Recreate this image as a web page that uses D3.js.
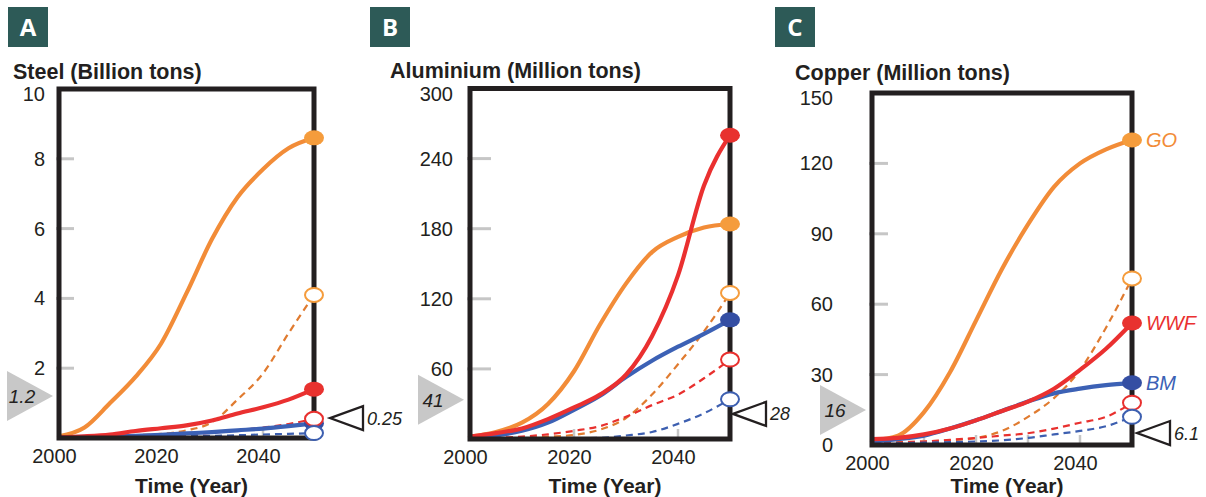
<!DOCTYPE html>
<html>
<head>
<meta charset="utf-8">
<script src="https://cdn.jsdelivr.net/npm/d3@7"></script>
<style>
  html, body { margin: 0; padding: 0; background: #fff; }
  svg { display: block; }
</style>
</head>
<body>
<svg id="chart" width="1206" height="497"></svg>
<script>
// ---------------- DATA ----------------
const years = [2000, 2005, 2010, 2015, 2020, 2025, 2030, 2035, 2040, 2045, 2050];
const xTickYears = [2000, 2020, 2040];

// Panel A - Steel (Billion tons)
const steelTitle = "Steel (Billion tons)";
const steelTicks = [2, 4, 6, 8, 10];
const steelGO       = [0.05, 0.3, 1.0, 1.75, 2.7, 4.15, 5.7, 6.9, 7.7, 8.3, 8.6];
const steelGOdash   = [0.02, 0.03, 0.05, 0.08, 0.12, 0.22, 0.45, 1.1, 1.85, 3.0, 4.1];
const steelWWF      = [0.02, 0.05, 0.1, 0.2, 0.28, 0.36, 0.5, 0.7, 0.88, 1.1, 1.4];
const steelWWFdash  = [0.0, 0.01, 0.02, 0.04, 0.06, 0.1, 0.15, 0.22, 0.3, 0.4, 0.55];
const steelBM       = [0.02, 0.03, 0.04, 0.06, 0.09, 0.13, 0.17, 0.22, 0.27, 0.34, 0.42];
const steelBMdash   = [0.01, 0.01, 0.02, 0.03, 0.04, 0.05, 0.06, 0.08, 0.1, 0.12, 0.14];
const steelCurrent = {label: "1.2", at: 1.2};
const steelRecycle = {label: "0.25", at: 0.57};

// Panel B - Aluminium (Million tons)
const aluTitle = "Aluminium (Million tons)";
const aluTicks = [60, 120, 180, 240, 300];
const aluGO      = [2, 6, 14, 30, 58, 98, 133, 160, 173, 181, 184];
const aluGOdash  = [0, 0.3, 0.8, 2, 3.5, 8, 18, 38, 64, 92, 125];
const aluWWF     = [2, 5, 9, 17, 27, 38, 55, 88, 140, 217, 260];
const aluWWFdash = [0, 1, 2, 4, 7, 11, 19, 29, 38, 52, 68];
const aluBM      = [1, 3, 7, 14, 25, 37, 53, 67, 79, 90, 102];
const aluBMdash  = [0, 0, 0, 0, 0.5, 1, 3, 6, 13, 22, 34];
const aluCurrent = {label: "41", at: 33.5};
const aluRecycle = {label: "28", at: 21.5};

// Panel C - Copper (Million tons)
const cuTitle = "Copper (Million tons)";
const cuTicks = [0, 30, 60, 90, 120, 150];
const cuGO      = [2, 4, 14, 31, 53, 75, 94, 110, 120, 126, 130];
const cuGOdash  = [1, 1.2, 1.5, 2, 3, 6, 12, 20, 32, 50, 71];
const cuWWF     = [2.5, 3, 4.5, 7, 10.5, 14.5, 18.5, 24, 32, 41, 52];
const cuWWFdash = [0.5, 1, 1.5, 2.2, 3, 4, 5, 7, 9.5, 12, 18];
const cuBM      = [1.5, 2.5, 4, 7, 10.5, 14.5, 18.5, 22, 24, 25.5, 26.5];
const cuBMdash  = [0.5, 0.7, 1, 1.2, 1.5, 2, 3, 4.5, 6, 8, 12];
const cuCurrent = {label: "16", at: 14.9};
const cuRecycle = {label: "6.1", at: 5.1};

const scenarioNames = ["GO", "WWF", "BM"];

// ---------------- STYLE / LAYOUT ----------------
const colors = {
  GO:  {line: "#f28c38", dash: "#e07b30", dot: "#f59c3c"},
  WWF: {line: "#ea3030", dash: "#e8302e", dot: "#e8322f"},
  BM:  {line: "#3c61b5", dash: "#3d5fb0", dot: "#344ea3"}
};
const ink = "#231f20";
const tickGray = "#c6c6c6";

const panels = [
  {letter: "A", badgeX: 8, title: steelTitle, titleX: 13, titleY: 79,
   left: 59, right: 314, top: 89, bottom: 438, yMax: 10, yTicks: steelTicks,
   labelRight: 45, tickLen: 15, xGray: [2040],
   series: {GO: [steelGO, steelGOdash], WWF: [steelWWF, steelWWFdash], BM: [steelBM, steelBMdash]},
   current: steelCurrent, recycle: steelRecycle, recycleDx: 16, endLabels: false},
  {letter: "B", badgeX: 370, title: aluTitle, titleX: 390, titleY: 78,
   left: 470, right: 730, top: 88.5, bottom: 439, yMax: 300, yTicks: aluTicks,
   labelRight: 453, tickLen: 21, xGray: [2020, 2040],
   series: {GO: [aluGO, aluGOdash], WWF: [aluWWF, aluWWFdash], BM: [aluBM, aluBMdash]},
   current: aluCurrent, recycle: aluRecycle, recycleDx: 3, endLabels: false},
  {letter: "C", badgeX: 775, title: cuTitle, titleX: 795, titleY: 80,
   left: 872, right: 1132, top: 93, bottom: 445, yMax: 150, yTicks: cuTicks,
   labelRight: 833, tickLen: 16, xGray: [2010, 2020, 2030, 2040],
   series: {GO: [cuGO, cuGOdash], WWF: [cuWWF, cuWWFdash], BM: [cuBM, cuBMdash]},
   current: cuCurrent, recycle: cuRecycle, recycleDx: 5, endLabels: true}
];

const svg = d3.select("#chart");
const sans = "'Liberation Sans', Arial, Helvetica, sans-serif";

panels.forEach(p => {
  const g = svg.append("g");
  const x = d3.scaleLinear().domain([2000, 2050]).range([p.left, p.right]);
  const y = d3.scaleLinear().domain([0, p.yMax]).range([p.bottom, p.top]);

  // badge
  g.append("rect").attr("x", p.badgeX).attr("y", 7).attr("width", 40).attr("height", 40)
    .attr("fill", "#2d5a57");
  g.append("text").attr("x", p.badgeX + 20).attr("y", 35.5).attr("text-anchor", "middle")
    .attr("font-family", "'Open Sans', sans-serif").attr("font-weight", 700)
    .attr("font-size", 24).attr("fill", "#fff").text(p.letter);

  // title
  g.append("text").attr("x", p.titleX).attr("y", p.titleY)
    .attr("font-family", sans).attr("font-weight", 700).attr("font-size", 21.5)
    .attr("fill", ink).text(p.title);

  // y axis labels
  const yAxis = d3.axisLeft(y).tickValues(p.yTicks).tickSize(0).tickPadding(0)
    .tickFormat(d3.format("d"));
  const ya = g.append("g").attr("transform", `translate(${p.labelRight},0)`).call(yAxis);
  ya.select(".domain").remove();
  ya.selectAll(".tick").attr("transform", d => `translate(0,${Math.max(y(d), p.top + 5)})`);
  ya.selectAll("text").attr("font-family", sans).attr("font-size", 20).attr("fill", ink)
    .attr("dy", "0.35em").attr("x", 0);

  // gray y tick marks (inner)
  g.selectAll(".ytm").data(p.yTicks.filter(v => v > 0 && v < p.yMax)).join("line")
    .attr("x1", p.left - 3).attr("x2", p.left + p.tickLen)
    .attr("y1", d => y(d)).attr("y2", d => y(d))
    .attr("stroke", tickGray).attr("stroke-width", 3);

  // gray x tick marks
  g.selectAll(".xtm").data(p.xGray).join("line")
    .attr("x1", d => x(d)).attr("x2", d => x(d))
    .attr("y1", p.bottom - 10).attr("y2", p.bottom)
    .attr("stroke", tickGray).attr("stroke-width", 2.5);

  // x axis labels
  const xAxis = d3.axisBottom(x).tickValues(xTickYears).tickSize(0).tickPadding(0)
    .tickFormat(d3.format("d"));
  const xa = g.append("g").attr("transform", `translate(-5,${p.bottom + 11})`).call(xAxis);
  xa.select(".domain").remove();
  xa.selectAll("text").attr("font-family", sans).attr("font-size", 20).attr("fill", ink)
    .attr("dy", "0.72em").attr("y", 0);

  // x title
  g.append("text").attr("x", (p.left + p.right) / 2 + 5).attr("y", 493)
    .attr("text-anchor", "middle").attr("font-family", sans).attr("font-weight", 700)
    .attr("font-size", 21).attr("fill", ink).text("Time (Year)");

  const line = d3.line().x((d, i) => x(years[i])).y(d => y(d)).curve(d3.curveMonotoneX);

  // dashed lines
  scenarioNames.forEach(s => {
    g.append("path").datum(p.series[s][1]).attr("d", line).attr("fill", "none")
      .attr("stroke", colors[s].dash).attr("stroke-width", 2.2)
      .attr("stroke-dasharray", "7,5");
  });
  // solid lines (blue under red)
  ["GO", "BM", "WWF"].forEach(s => {
    g.append("path").datum(p.series[s][0]).attr("d", line).attr("fill", "none")
      .attr("stroke", colors[s].line).attr("stroke-width", 4.2)
      .attr("stroke-linejoin", "round").attr("stroke-linecap", "round");
  });

  // frame
  g.append("rect").attr("x", p.left).attr("y", p.top)
    .attr("width", p.right - p.left).attr("height", p.bottom - p.top)
    .attr("fill", "none").attr("stroke", ink).attr("stroke-width", 5);

  // end markers: filled (solid) then open (dashed)
  const last = years[years.length - 1];
  scenarioNames.forEach(s => {
    const v = p.series[s][0];
    g.append("ellipse").attr("cx", x(last)).attr("cy", y(v[v.length - 1]))
      .attr("rx", 10).attr("ry", 7.5).attr("fill", colors[s].dot);
  });
  scenarioNames.forEach(s => {
    const v = p.series[s][1];
    g.append("ellipse").attr("cx", x(last)).attr("cy", y(v[v.length - 1]))
      .attr("rx", 9).attr("ry", 7).attr("fill", "#fff")
      .attr("stroke", s === "GO" ? colors[s].dot : colors[s].dash)
      .attr("stroke-width", 2);
  });

  // end labels (panel C)
  if (p.endLabels) {
    scenarioNames.forEach(s => {
      const v = p.series[s][0];
      g.append("text").attr("x", x(last) + 14).attr("y", y(v[v.length - 1]))
        .attr("dy", "0.36em").attr("font-family", sans).attr("font-style", "italic")
        .attr("font-size", 20).attr("fill", colors[s].line).text(s);
    });
  }

  // current-use gray triangle (left)
  const cy = y(p.current.at);
  const ax = p.left - 6;
  g.append("path")
    .attr("d", `M${ax - 46},${cy - 25}L${ax},${cy}L${ax - 46},${cy + 25}Z`)
    .attr("fill", "#c8c8c8");
  g.append("text").attr("x", ax - 31).attr("y", cy).attr("dy", "0.36em")
    .attr("text-anchor", "middle").attr("font-family", sans).attr("font-style", "italic")
    .attr("font-size", 19).attr("fill", ink).text(p.current.label);

  // recycling black outline triangle (right)
  const ry = y(p.recycle.at);
  const rx = p.right + p.recycleDx;
  g.append("path")
    .attr("d", `M${rx},${ry}L${rx + 33},${ry - 12}L${rx + 33},${ry + 12}Z`)
    .attr("fill", "#fff").attr("stroke", ink).attr("stroke-width", 2.3)
    .attr("stroke-linejoin", "miter");
  g.append("text").attr("x", rx + 37).attr("y", ry).attr("dy", "0.36em")
    .attr("font-family", sans).attr("font-style", "italic")
    .attr("font-size", 18).attr("fill", ink).text(p.recycle.label);
});
</script>
</body>
</html>
